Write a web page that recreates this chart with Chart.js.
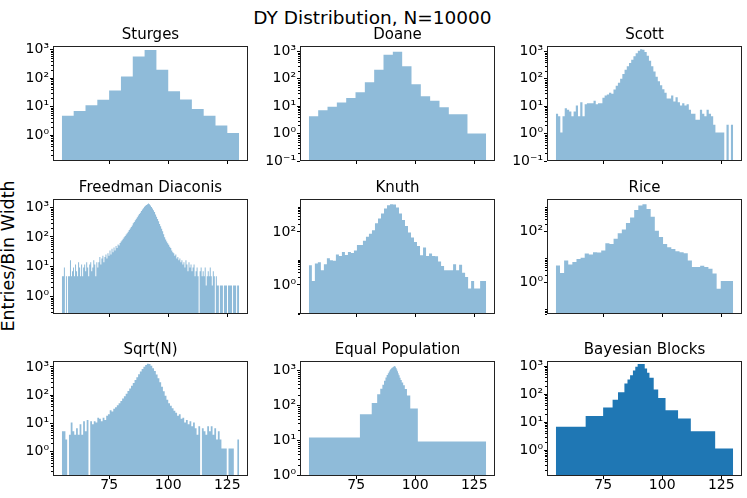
<!DOCTYPE html>
<html>
<head>
<meta charset="utf-8">
<script src="https://cdn.jsdelivr.net/npm/chart.js@4.4.1/dist/chart.umd.min.js"></script>
<style>
body { margin: 0; background: #fff; font-family: "DejaVu Sans", sans-serif; }
#page { position: relative; width: 747px; height: 498px; overflow: hidden; }
#page canvas { position: absolute; }
#suptitle { position: absolute; left: -1px; width: 747px; top: 9px; text-align: center; font-size: 18.5px; line-height: 1; }
#ylabel { position: absolute; left: 8.5px; top: 256px; font-size: 17.5px; line-height: 1; white-space: nowrap; transform: translate(-50%, -50%) rotate(-90deg); }
</style>
</head>
<body>
<div id="page">
  <div id="suptitle">DY Distribution, N=10000</div>
  <div id="ylabel">Entries/Bin Width</div>
</div>

<script>
const FONT = '"DejaVu Sans", sans-serif';

// shared x range of the data and the x tick labels
const xRange = [55, 130];
const xTicks = [75, 100, 125];

// entries / bin width (0 = empty bin)
const sturges = [4.8, 7.0, 11.2, 17.4, 36.8, 114, 570, 975, 195, 34.8, 17.8, 8.2, 4.8, 2.2, 1.2];

const doane = [4.3, 7.1, 9.6, 13.7, 20.0, 32.4, 75, 216, 752, 985, 291, 63, 23.3, 16.0, 9.1, 5.1, 5.1, 1.0, 1.0];

const scott = [
  5.3, 4.3, 1.1, 4.3, 8.5, 7.5, 6.4, 4.3, 6.4, 10.7,
  4.3, 13.9, 4.3, 11.7, 12.8, 12.8, 12.8, 16.0, 11.7, 12.8,
  12.8, 20.3, 24.5, 26.7, 30.9, 28.8, 40.5, 55.5, 72.5, 101,
  150, 215, 290, 380, 500, 670, 860, 1060, 1200, 1150,
  950, 700, 460, 290, 185, 120, 82, 58, 42, 31,
  19.2, 19.2, 24.5, 14.9, 21.3, 13.9, 10.7, 12.8, 10.7, 11.7,
  7.5, 5.3, 5.3, 3.2, 3.2, 7.5, 5.3, 4.3, 7.5, 5.3,
  4.3, 2.1, 1.1, 1.1, 1.1, 1.1, 0, 2.1, 0, 2.1
];

const freedman = [
  4.7, 4.7, 9.3, 0, 4.7, 0, 4.7, 4.7, 16.3, 4.7, 7.0, 9.3,
  4.7, 11.7, 7.0, 4.7, 14.0, 9.3, 4.7, 11.7, 4.7, 9.3, 11.7, 7.0,
  14.0, 9.3, 4.7, 11.7, 14.0, 7.0, 9.3, 16.3, 11.7, 4.7, 14.0, 9.3,
  14.0, 21.0, 11.7, 18.7, 23.3, 14.0, 21.0, 25.7, 18.7, 28.0, 23.3,
  35.0, 25.7, 39.7, 30.3, 44.3, 35.0, 49.0, 42.0, 56.0, 51.3, 63.0, 70.0,
  77, 86, 98, 107, 121, 133, 150, 170, 193, 217,
  245, 287, 322, 366, 413, 462, 525, 590, 651, 745,
  840, 930, 1040, 1130, 1200, 1275, 1335, 1260, 1150, 1030,
  910, 800, 690, 575, 480, 400, 335, 275, 230, 190,
  155, 122, 98, 82, 70, 61, 54,
  47, 42, 35, 30.3, 28, 23.3, 25.7, 18.7, 21, 16.3, 18.7, 14,
  16.3, 11.7, 14, 9.3, 16.3, 11.7, 7, 14, 9.3, 11.7, 7,
  9.3, 11.7, 4.7, 7, 9.3, 4.7, 0, 7, 9.3, 4.7, 7, 4.7,
  9.3, 2.3, 4.7, 7, 4.7, 9.3, 4.7, 2.3, 7, 4.7, 0, 4.7,
  2.3, 2.3, 0, 2.3, 2.3, 2.3, 0, 2.3, 2.3, 2.3, 0,
  2.3, 2.3, 2.3, 2.3, 0, 2.3, 2.3, 2.3, 0, 2.3, 2.3
];

const knuth = [
  5.5, 1.4, 6.4, 7.2, 3.6, 6.0, 10.1, 8.5, 8.1, 14,
  12.4, 17.6, 13.5, 17.6, 16, 20, 32, 32, 46, 65,
  86, 116, 212, 318, 492, 760, 1020, 1120, 1090, 828,
  492, 283, 168, 94, 61, 42, 29.5, 13.2, 25.6, 12.4,
  15.2, 12.4, 12, 7.6, 5.2, 3.6, 3.6, 3.6, 6, 3.6,
  5.7, 2.9, 2.0, 0.73, 1.4, 0.73, 0.73, 1.4, 1.4
];

const rice = [
  4.7, 2.4, 7.4, 5.2, 6.4, 8.4, 9.4, 13.9, 12.7, 15.7,
  15.2, 18.2, 35, 33, 53, 86, 120, 218, 361, 698,
  1062, 1196, 764, 384, 109, 62, 33, 24.5, 21, 17.1,
  15.7, 14.3, 7.4, 4.1, 4.1, 4.6, 4.1, 3.5, 2.3, 0.58,
  1.16, 1.16, 1.16
];

const sqrtN = [
  5.3, 5.3, 2.7, 0, 4.0, 10.7, 5.3, 4.0, 6.7, 4.0,
  9.3, 4.0, 12.0, 5.3, 13.3, 0, 12.0, 9.3, 12.0, 10.7,
  16.0, 14.7, 12.0, 16.0, 13.3, 18.7, 21.3, 29.3, 26.7, 33.3,
  37.3, 44.0, 52.0, 62.7, 76.0, 92.0, 112, 141, 172, 216,
  268, 343, 431, 553, 687, 847, 1013, 1175, 1300, 1264,
  1100, 905, 717, 540, 396, 285, 200, 137, 95, 69,
  52, 42.7, 34.7, 28.0, 24.0, 18.7, 21.3, 14.7, 16.0, 10.7,
  13.3, 9.3, 12.0, 8.0, 10.7, 6.7, 4.0, 8.0, 0, 6.7,
  5.3, 4.0, 8.0, 5.3, 8.0, 4.0, 6.7, 2.7, 5.3, 2.7,
  1.3, 1.3, 1.3, 0, 1.3, 1.3, 1.3, 0, 0, 2.7
];

const equalPopEdges = [55, 76.6, 81.6, 83.9, 85.2, 86.1, 86.8, 87.4, 87.9, 88.4, 88.8, 89.2, 89.5, 89.8,
  90.1, 90.4, 90.6, 90.8, 91.0, 91.2, 91.4, 91.6, 91.8, 92.1, 92.4, 92.7, 93.0, 93.4, 93.8,
  94.3, 94.9, 95.6, 96.5, 97.9, 101.1, 130];
const equalPop = [12.0, 55, 116, 205, 295, 380, 500, 620, 720, 820, 920, 1010, 1080, 1130,
  1170, 1200, 1230, 1260, 1290, 1320, 1290, 1240, 1150, 1040, 930, 820, 710, 610,
  520, 440, 370, 290, 190, 80, 9.2];

const bayesEdges = [55, 67.6, 75, 79, 81.3, 84, 85.3, 86.4, 87.6, 88.6, 89.6, 92.6, 93.6, 94.6,
  96.4, 98.3, 101.4, 106.7, 112.1, 122.4, 130];
const bayes = [6.9, 16.7, 33, 63, 116, 238, 330, 474, 698, 946, 1180, 824, 575, 380,
  145, 72, 26.7, 13.4, 4.7, 1.15];

// layout of the 3x3 grid (axes boxes in page pixels)
const colLeft = [53, 300, 547];
const rowTop = [46, 199, 361];
const axW = 195, axH = 115;
const padL = 50, padT = 21, padB = 25, padR = 4;

const panels = [
  {title: 'Sturges', values: sturges, col: 0, row: 0, yMin: 0.124, yMax: 1340, stride: 1},
  {title: 'Doane', values: doane, col: 1, row: 0, yMin: 0.1, yMax: 1585, stride: 1},
  {title: 'Scott', values: scott, col: 2, row: 0, yMin: 0.1, yMax: 1585, stride: 1},
  {title: 'Freedman Diaconis', values: freedman, col: 0, row: 1, yMin: 0.251, yMax: 1905, stride: 1},
  {title: 'Knuth', values: knuth, col: 1, row: 1, yMin: 0.0794, yMax: 1750, stride: 2},
  {title: 'Rice', values: rice, col: 2, row: 1, yMin: 0.0589, yMax: 1905, stride: 2},
  {title: 'Sqrt(N)', values: sqrtN, col: 0, row: 2, yMin: 0.138, yMax: 1622, stride: 1},
  {title: 'Equal Population', values: equalPop, edges: equalPopEdges, col: 1, row: 2, yMin: 0.95, yMax: 1820, stride: 1},
  {title: 'Bayesian Blocks', values: bayes, edges: bayesEdges, col: 2, row: 2, yMin: 0.12, yMax: 1514, stride: 1, solid: true}
];

const SUP = {'-': '\u207B', '0': '\u2070', '1': '\u00B9', '2': '\u00B2', '3': '\u00B3', '4': '\u2074'};
function decadeLabel(v) {
  const e = String(Math.round(Math.log10(v)));
  return '10' + e.split('').map(c => SUP[c]).join('');
}

function uniformEdges(n) {
  const edges = [];
  for (let i = 0; i <= n; i++) edges.push(xRange[0] + (xRange[1] - xRange[0]) * i / n);
  return edges;
}

const EMPTY = 1e-6; // empty bins drop below every axis floor

function stepPoints(edges, values) {
  const pts = values.map((v, i) => ({x: edges[i], y: v > 0 ? v : EMPTY}));
  pts.push({x: edges[values.length], y: pts[pts.length - 1].y});
  return pts;
}

function logTicks(min, max, stride) {
  const majors = [], minors = [];
  for (let d = Math.floor(Math.log10(min)); d <= Math.ceil(Math.log10(max)); d++) {
    if (d % stride !== 0) continue;
    const base = Math.pow(10, d);
    if (base >= min && base <= max) majors.push(base);
    for (let k = 2; k < 10; k++) {
      const v = k * base;
      if (v >= min && v <= max) minors.push(v);
    }
  }
  return {majors, minors};
}

// box around the axes + short minor ticks on the log axis
const frame = {
  id: 'frame',
  afterDraw(chart, args, opts) {
    const {ctx, chartArea: a} = chart;
    const y = chart.scales.y;
    ctx.save();
    ctx.strokeStyle = '#000';
    ctx.lineWidth = 1;
    ctx.beginPath();
    for (const v of opts.minors) {
      const py = Math.round(y.getPixelForValue(v)) + 0.5;
      ctx.moveTo(a.left, py);
      ctx.lineTo(a.left - 2, py);
    }
    ctx.stroke();
    ctx.strokeStyle = '#222';
    ctx.strokeRect(a.left + 0.5, a.top + 0.5, a.right - a.left - 1, a.bottom - a.top - 1);
    ctx.restore();
  }
};

const page = document.getElementById('page');

panels.forEach(p => {
  const canvas = document.createElement('canvas');
  const w = padL + axW + padR, h = padT + axH + padB;
  canvas.width = w;
  canvas.height = h;
  canvas.style.width = w + 'px';
  canvas.style.height = h + 'px';
  canvas.style.left = (colLeft[p.col] - padL) + 'px';
  canvas.style.top = (rowTop[p.row] - padT) + 'px';
  page.appendChild(canvas);

  const edges = p.edges || uniformEdges(p.values.length);
  const {majors, minors} = logTicks(p.yMin, p.yMax, p.stride);
  const bottomRow = p.row === 2;

  new Chart(canvas, {
    type: 'line',
    data: {
      datasets: [{
        data: stepPoints(edges, p.values),
        stepped: 'before',
        fill: 'start',
        backgroundColor: p.solid ? '#1f77b4' : 'rgba(31,119,180,0.5)',
        borderColor: 'rgba(0,0,0,0)',
        borderWidth: 0,
        pointRadius: 0
      }]
    },
    plugins: [frame],
    options: {
      responsive: false,
      animation: false,
      events: [],
      layout: {padding: {left: 0, right: padR, top: 0, bottom: 0}},
      plugins: {
        legend: {display: false},
        tooltip: {enabled: false},
        title: {
          display: true, text: p.title, color: '#000', fullSize: false,
          font: {family: FONT, size: 15, weight: 'normal'},
          padding: {top: 1, bottom: 2}
        },
        frame: {minors}
      },
      scales: {
        x: {
          type: 'linear',
          min: 51.25, max: 133.75,
          afterBuildTicks: s => { s.ticks = xTicks.map(v => ({value: v})); },
          afterFit: s => { s.height = padB; },
          ticks: {
            display: bottomRow, color: '#000', padding: 0,
            font: {family: FONT, size: 14, lineHeight: 0.9},
            maxRotation: 0, autoSkip: false
          },
          grid: {drawOnChartArea: false, drawTicks: true, tickLength: 3, tickColor: '#000'},
          border: {display: false}
        },
        y: {
          type: 'logarithmic',
          min: p.yMin, max: p.yMax,
          afterBuildTicks: s => { s.ticks = majors.map(v => ({value: v})); },
          afterFit: s => { s.width = padL; },
          ticks: {
            callback: v => decadeLabel(v),
            color: '#000', padding: 1,
            font: {family: FONT, size: 14},
            autoSkip: false
          },
          grid: {drawOnChartArea: false, drawTicks: true, tickLength: 3, tickColor: '#000'},
          border: {display: false}
        }
      }
    }
  });
});
</script>
</body>
</html>
